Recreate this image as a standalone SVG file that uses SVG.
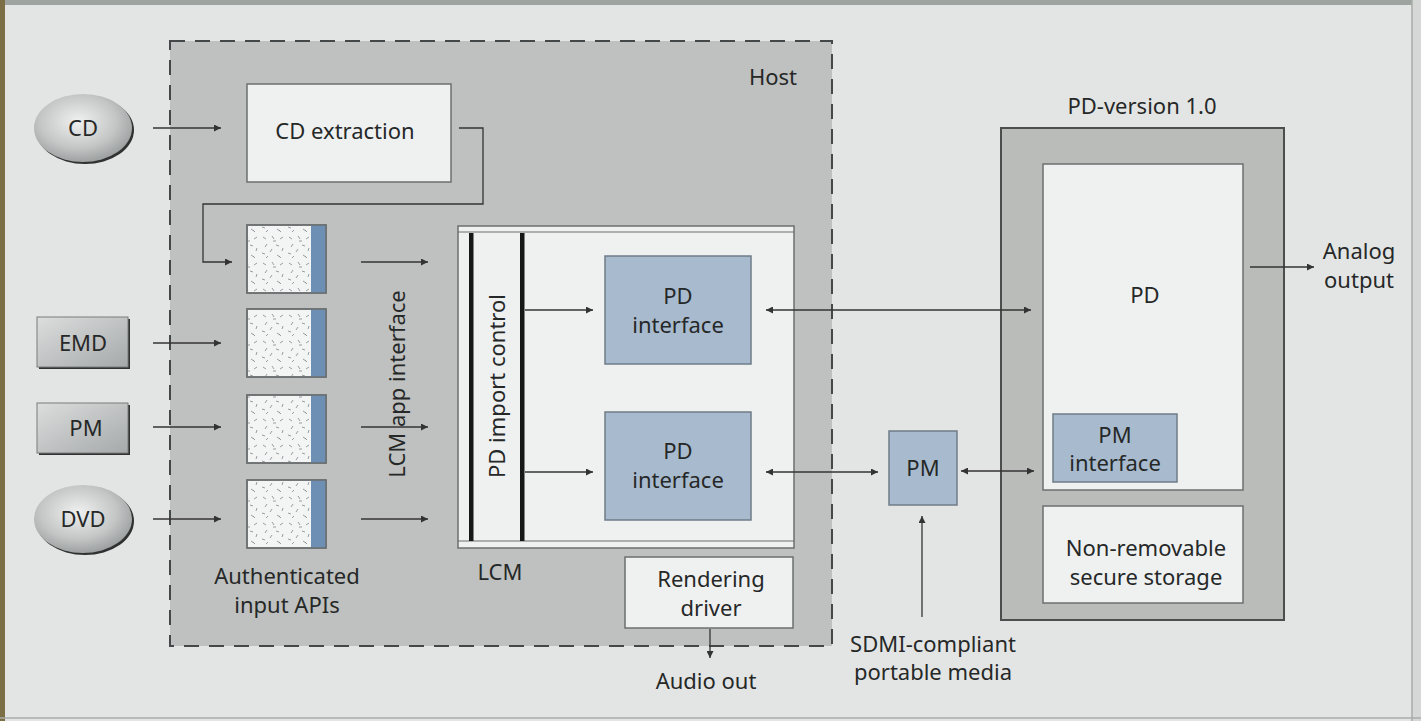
<svg xmlns="http://www.w3.org/2000/svg" width="1421" height="721" viewBox="0 0 1421 721">
<style>
  text { font-family: "Noto Sans", "Liberation Sans", sans-serif; font-size: 22px; fill: #262828; }
  .mid { text-anchor: middle; }
  .box { fill: #eff1f1; stroke: #6b6f6f; stroke-width: 1.5; }
  .blue { fill: #a8bbce; stroke: #6f7c88; stroke-width: 1.5; }
  .api { fill: url(#dots); stroke: #6b6f6f; stroke-width: 1.5; }
  .strip { fill: #6d8fb3; }
  .conn { fill: none; stroke: #333; stroke-width: 1.3; }
</style>
<defs>
  <marker id="ah" viewBox="0 0 10 10" refX="10" refY="5" markerWidth="8" markerHeight="7" markerUnits="userSpaceOnUse" orient="auto-start-reverse">
    <path d="M0,0 L10,5 L0,10 z" fill="#333"/>
  </marker>
  <pattern id="dots" width="26" height="26" patternUnits="userSpaceOnUse">
    <rect width="26" height="26" fill="#f3f5f5"/>
    <g stroke="#8b9494" stroke-width="0.9">
      <path d="M3,3 l3,2 M12,2 l2,3 M20,5 l3,-2 M7,10 l-2,3 M16,11 l3,1 M23,14 l-1,3 M2,19 l3,1 M10,18 l2,-3 M17,21 l3,2 M6,24 l2,-2 M13,7 l3,0 M21,24 l-2,-2"/>
    </g>
  </pattern>
  <radialGradient id="disc" cx="0.45" cy="0.4" r="0.65">
    <stop offset="0" stop-color="#f0f0f0"/>
    <stop offset="0.6" stop-color="#c4c6c6"/>
    <stop offset="1" stop-color="#959898"/>
  </radialGradient>
  <linearGradient id="card" x1="0" y1="0" x2="1" y2="1">
    <stop offset="0" stop-color="#dcdede"/>
    <stop offset="1" stop-color="#a6a9a9"/>
  </linearGradient>
</defs>

<!-- background -->
<rect x="0" y="0" width="1421" height="721" fill="#e3e5e4"/>
<rect x="0" y="0" width="1421" height="5" fill="#9ea49f"/>
<rect x="0" y="0" width="5" height="721" fill="#7d6f45"/>
<rect x="1412" y="0" width="9" height="721" fill="#d6d8d8"/>
<line x1="1412" y1="0" x2="1412" y2="721" stroke="#a8acaa" stroke-width="1.5"/>
<line x1="0" y1="718" x2="1421" y2="718" stroke="#a8acaa" stroke-width="1.5"/>

<!-- Host -->
<g id="host">
  <rect x="170" y="41" width="662" height="605" fill="#bec1bf" stroke="#454848" stroke-width="2" stroke-dasharray="15,10"/>
  <text x="773" y="85" class="mid">Host</text>
</g>

<!-- sources -->
<g id="cd">
  <ellipse cx="85" cy="130" rx="49" ry="34" fill="#303232"/>
  <ellipse cx="83" cy="128" rx="49" ry="34" fill="url(#disc)"/>
  <text x="83" y="136" class="mid">CD</text>
</g>
<g id="emd">
  <rect x="39" y="319" width="91" height="50" fill="#303232"/>
  <rect x="37" y="317" width="91" height="50" fill="url(#card)" stroke="#7a7d7d" stroke-width="1"/>
  <text x="83" y="351" class="mid">EMD</text>
</g>
<g id="pm-src">
  <rect x="39" y="405" width="91" height="50" fill="#303232"/>
  <rect x="37" y="403" width="91" height="50" fill="url(#card)" stroke="#7a7d7d" stroke-width="1"/>
  <text x="86" y="436" class="mid">PM</text>
</g>
<g id="dvd">
  <ellipse cx="85" cy="521" rx="49" ry="34" fill="#303232"/>
  <ellipse cx="83" cy="519" rx="49" ry="34" fill="url(#disc)"/>
  <text x="83" y="527" class="mid">DVD</text>
</g>

<!-- CD extraction -->
<g id="cd-extraction">
  <rect x="247" y="84" width="204" height="98" class="box"/>
  <text x="345" y="139" class="mid">CD extraction</text>
</g>

<!-- Authenticated input APIs -->
<g id="api1"><rect x="247" y="225" width="79" height="68" class="api"/><rect x="311" y="225" width="15" height="68" class="strip"/><rect x="247" y="225" width="79" height="68" fill="none" stroke="#6b6f6f" stroke-width="1.5"/></g>
<g id="api2"><rect x="247" y="309" width="79" height="68" class="api"/><rect x="311" y="309" width="15" height="68" class="strip"/><rect x="247" y="309" width="79" height="68" fill="none" stroke="#6b6f6f" stroke-width="1.5"/></g>
<g id="api3"><rect x="247" y="395" width="79" height="68" class="api"/><rect x="311" y="395" width="15" height="68" class="strip"/><rect x="247" y="395" width="79" height="68" fill="none" stroke="#6b6f6f" stroke-width="1.5"/></g>
<g id="api4"><rect x="247" y="480" width="79" height="68" class="api"/><rect x="311" y="480" width="15" height="68" class="strip"/><rect x="247" y="480" width="79" height="68" fill="none" stroke="#6b6f6f" stroke-width="1.5"/></g>
<g id="api-label">
  <text x="287" y="584" class="mid">Authenticated</text>
  <text x="287" y="613" class="mid">input APIs</text>
</g>

<g id="lcm-app-interface">
  <text transform="translate(405,384) rotate(-90)" x="0" y="0" class="mid">LCM app interface</text>
</g>

<!-- LCM -->
<g id="lcm">
  <rect x="458" y="226" width="336" height="322" class="box"/>
  <line x1="458" y1="232" x2="794" y2="232" stroke="#6b6f6f" stroke-width="1.2"/>
  <line x1="458" y1="541" x2="794" y2="541" stroke="#6b6f6f" stroke-width="1.2"/>
  <rect x="469" y="233" width="4.5" height="308" fill="#161717"/>
  <rect x="520" y="233" width="4.5" height="308" fill="#161717"/>
  <text transform="translate(505,386) rotate(-90)" x="0" y="0" class="mid">PD import control</text>
  <text x="500" y="580" class="mid">LCM</text>
</g>
<g id="pd-interface-1">
  <rect x="605" y="256" width="146" height="108" class="blue"/>
  <text x="678" y="304" class="mid">PD</text>
  <text x="678" y="333" class="mid">interface</text>
</g>
<g id="pd-interface-2">
  <rect x="605" y="412" width="146" height="108" class="blue"/>
  <text x="678" y="459" class="mid">PD</text>
  <text x="678" y="488" class="mid">interface</text>
</g>
<g id="rendering-driver">
  <rect x="625" y="557" width="168" height="71" class="box"/>
  <text x="711" y="587" class="mid">Rendering</text>
  <text x="711" y="616" class="mid">driver</text>
</g>
<g id="audio-out">
  <text x="706" y="689" class="mid">Audio out</text>
</g>

<!-- portable media -->
<g id="pm">
  <rect x="889" y="431" width="68" height="74" class="blue"/>
  <text x="923" y="476" class="mid">PM</text>
</g>
<g id="sdmi">
  <text x="933" y="652" class="mid">SDMI-compliant</text>
  <text x="933" y="680" class="mid">portable media</text>
</g>

<!-- PD-version 1.0 -->
<g id="pd-version">
  <text x="1142" y="114" class="mid">PD-version 1.0</text>
  <rect x="1001" y="128" width="283" height="492" fill="#b9bcb9" stroke="#4b4e4d" stroke-width="2"/>
</g>
<g id="pd">
  <rect x="1043" y="164" width="200" height="326" class="box"/>
  <text x="1145" y="303" class="mid">PD</text>
</g>
<g id="pm-interface">
  <rect x="1053" y="414" width="124" height="68" class="blue"/>
  <text x="1115" y="443" class="mid">PM</text>
  <text x="1115" y="471" class="mid">interface</text>
</g>
<g id="secure-storage">
  <rect x="1043" y="506" width="200" height="97" class="box"/>
  <text x="1146" y="556" class="mid">Non-removable</text>
  <text x="1146" y="585" class="mid">secure storage</text>
</g>
<g id="analog-output">
  <text x="1359" y="259" class="mid">Analog</text>
  <text x="1359" y="288" class="mid">output</text>
</g>

<!-- connectors -->
<g id="connectors" class="conn">
  <path class="conn" d="M153,128 H221" marker-end="url(#ah)"/>
  <path class="conn" d="M459,128 H483 V204 H203 V262 H232" marker-end="url(#ah)"/>
  <path class="conn" d="M153,343 H221" marker-end="url(#ah)"/>
  <path class="conn" d="M153,427 H221" marker-end="url(#ah)"/>
  <path class="conn" d="M153,519 H221" marker-end="url(#ah)"/>
  <path class="conn" d="M361,262 H428" marker-end="url(#ah)"/>
  <path class="conn" d="M361,427 H428" marker-end="url(#ah)"/>
  <path class="conn" d="M361,519 H428" marker-end="url(#ah)"/>
  <path class="conn" d="M525,310 H593" marker-end="url(#ah)"/>
  <path class="conn" d="M525,472 H593" marker-end="url(#ah)"/>
  <path class="conn" d="M766,310 H1031" marker-start="url(#ah)" marker-end="url(#ah)"/>
  <path class="conn" d="M766,472 H878" marker-start="url(#ah)" marker-end="url(#ah)"/>
  <path class="conn" d="M961,471 H1034" marker-start="url(#ah)" marker-end="url(#ah)"/>
  <path class="conn" d="M922,617 V516" marker-end="url(#ah)"/>
  <path class="conn" d="M710,629 V658" marker-end="url(#ah)"/>
  <path class="conn" d="M1250,267 H1314" marker-end="url(#ah)"/>
</g>
</svg>
